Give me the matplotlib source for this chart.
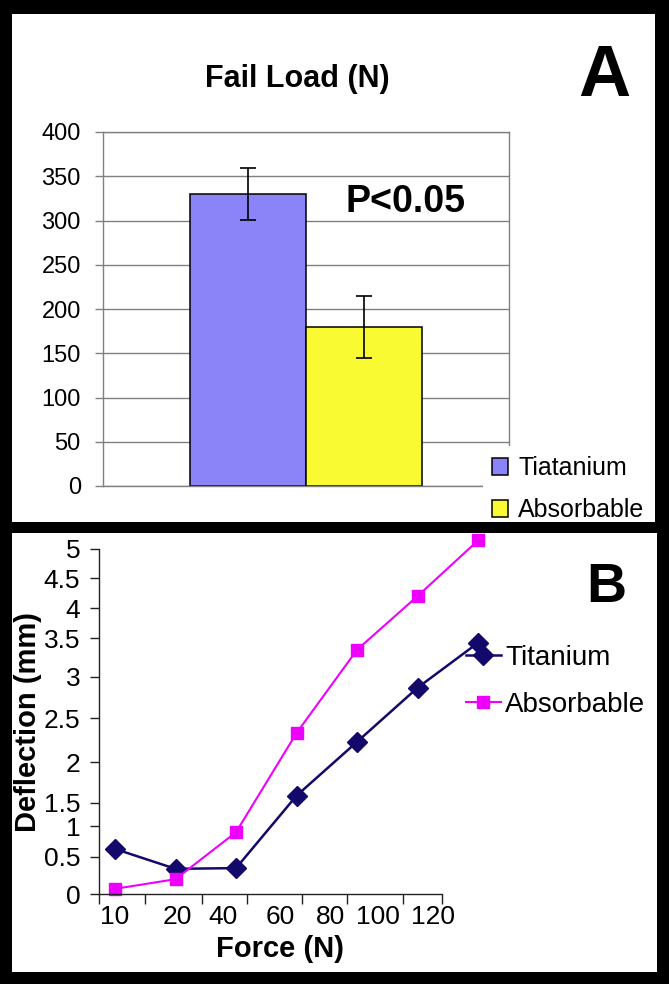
import matplotlib.pyplot as plt
import numpy as np
from matplotlib.patches import Rectangle

plt.rcParams['font.family'] = ['Liberation Sans', 'DejaVu Sans']

# panel A: fail load
groups = ["Tiatanium", "Absorbable"]
fail_load = [330, 180]
fail_err = [29, 35]
bar_colors = ["#8a84f8", "#fafa32"]
load_ticks = [0, 50, 100, 150, 200, 250, 300, 350, 400]

# panel B: deflection vs force
force_labels = ["10", "20", "40", "60", "80", "100", "120"]
titanium = [0.63, 0.34, 0.35, 1.59, 2.23, 2.87, 3.44]
absorbable = [0.07, 0.20, 0.90, 2.33, 3.35, 4.20, 5.15]
defl_ticks = [0, 0.5, 1, 1.5, 2, 2.5, 3, 3.5, 4, 4.5, 5]

W, H = 669, 984
fig = plt.figure(figsize=(W / 100, H / 100), dpi=100, facecolor="black")


def box(x0, y0, x1, y1):
    # pixel box (top-left origin) -> figure coords
    return [x0 / W, 1 - y1 / H, (x1 - x0) / W, (y1 - y0) / H]


# white panels on black background
for x0, y0, x1, y1 in [(12, 14, 655, 522), (12, 533, 657, 972)]:
    b = box(x0, y0, x1, y1)
    fig.add_artist(Rectangle((b[0], b[1]), b[2], b[3], transform=fig.transFigure,
                             facecolor="white", edgecolor="none", zorder=-1))

# ---------------- panel A ----------------
ax = fig.add_axes(box(103, 132, 509, 486))
ax.set_facecolor("none")
xpos = [-0.143, 0.143]
bars = ax.bar(xpos, fail_load, width=0.286, color=bar_colors, edgecolor="black",
              linewidth=1.1, label=groups)
ax.errorbar(xpos, fail_load, yerr=fail_err, fmt="none", ecolor="black",
            elinewidth=1.2, capsize=5.5, capthick=1.2)
ax.set_xlim(-0.5, 0.5)
ax.set_ylim(0, 400)
ax.set_yticks(load_ticks)
ax.set_xticks([])
ax.yaxis.grid(True, color="#808080", linewidth=1)
ax.set_axisbelow(True)
for s in ax.spines.values():
    s.set_color("#808080")
    s.set_linewidth(1)
ax.tick_params(axis="y", length=6, width=1, color="#808080", pad=10, labelsize=17)

# the legend area sits on top of the plot frame corner
lb = box(483, 446, 655, 522)
ax.add_artist(Rectangle((lb[0], lb[1]), lb[2], lb[3], transform=fig.transFigure,
                        facecolor="white", edgecolor="none", zorder=3, clip_on=False))
ax.legend(bars, groups, loc="upper left", bbox_to_anchor=(492 / W, 1 - 456 / H),
          bbox_transform=fig.transFigure, fontsize=18, handlelength=0.65,
          handleheight=0.65, handletextpad=0.4, borderpad=0, labelspacing=0.72,
          frameon=False, borderaxespad=0)

fig.text(297 / W, 1 - 87 / H, "Fail Load (N)", ha="center", va="baseline",
         fontsize=22, weight="bold")
fig.text(604 / W, 1 - 96 / H, "A", ha="center", va="baseline", fontsize=52, weight="bold")
fig.text(405 / W, 1 - 212 / H, "P<0.05", ha="center", va="baseline", fontsize=27,
         weight="bold")

# ---------------- panel B ----------------
# the printed deflection axis is not evenly spaced: relative height of each tick
scale_vals = defl_ticks + [5.5]
scale_h = [0, 37, 68, 91, 132, 176, 217, 256, 286, 316, 345, 374]

bx = fig.add_axes(box(99, 549, 500, 894))
bx.set_facecolor("none")
bx.set_yscale("function", functions=(lambda v: np.interp(v, scale_vals, scale_h),
                                     lambda h: np.interp(h, scale_h, scale_vals)))
x = np.arange(len(titanium))
bx.plot(x, titanium, color="#12096a", marker="D", markersize=10, linewidth=1.8,
        clip_on=False, label="Titanium")
bx.plot(x, absorbable, color="#ee00ff", marker="s", markersize=8, linewidth=1.5,
        clip_on=False, label="Absorbable")
bx.set_xlim(-0.264, 6.36)
bx.set_ylim(0, 5)
bx.set_yticks(defl_ticks)
bx.set_yticklabels([f"{t:g}" for t in defl_ticks])
bx.set_xticks([0, 1.025, 1.785, 2.727, 3.554, 4.347, 5.256])
bx.set_xticklabels(force_labels)
bx.set_xticks([-0.264, 0.496, 1.438, 2.182, 3.09, 3.835, 4.76, 5.40], minor=True)
bx.tick_params(axis="x", which="major", length=0, pad=8, labelsize=19)
bx.tick_params(axis="x", which="minor", length=7, width=1, color="#222222")
bx.tick_params(axis="y", length=6.5, width=1, color="#222222", pad=7, labelsize=19)
bx.spines["top"].set_visible(False)
bx.spines["right"].set_visible(False)
bx.spines["left"].set_bounds(0, 5)
bx.spines["bottom"].set_bounds(-0.264, 5.40)
for s in ("left", "bottom"):
    bx.spines[s].set_color("#222222")
    bx.spines[s].set_linewidth(1)
bx.legend(loc="upper left", bbox_to_anchor=(466 / W, 1 - 645 / H),
          bbox_transform=fig.transFigure, frameon=False, fontsize=20,
          handlelength=1.25, handletextpad=0.15, borderpad=0, borderaxespad=0,
          labelspacing=0.75)

fig.text(28 / W, 1 - 722 / H, "Deflection (mm)", rotation=90, ha="center",
         va="center", fontsize=21, weight="bold")
fig.text(280 / W, 1 - 957 / H, "Force (N)", ha="center", va="baseline", fontsize=21,
         weight="bold")
fig.text(606 / W, 1 - 602 / H, "B", ha="center", va="baseline", fontsize=40, weight="bold")

fig.savefig("out.png", dpi=100, facecolor=fig.get_facecolor())
